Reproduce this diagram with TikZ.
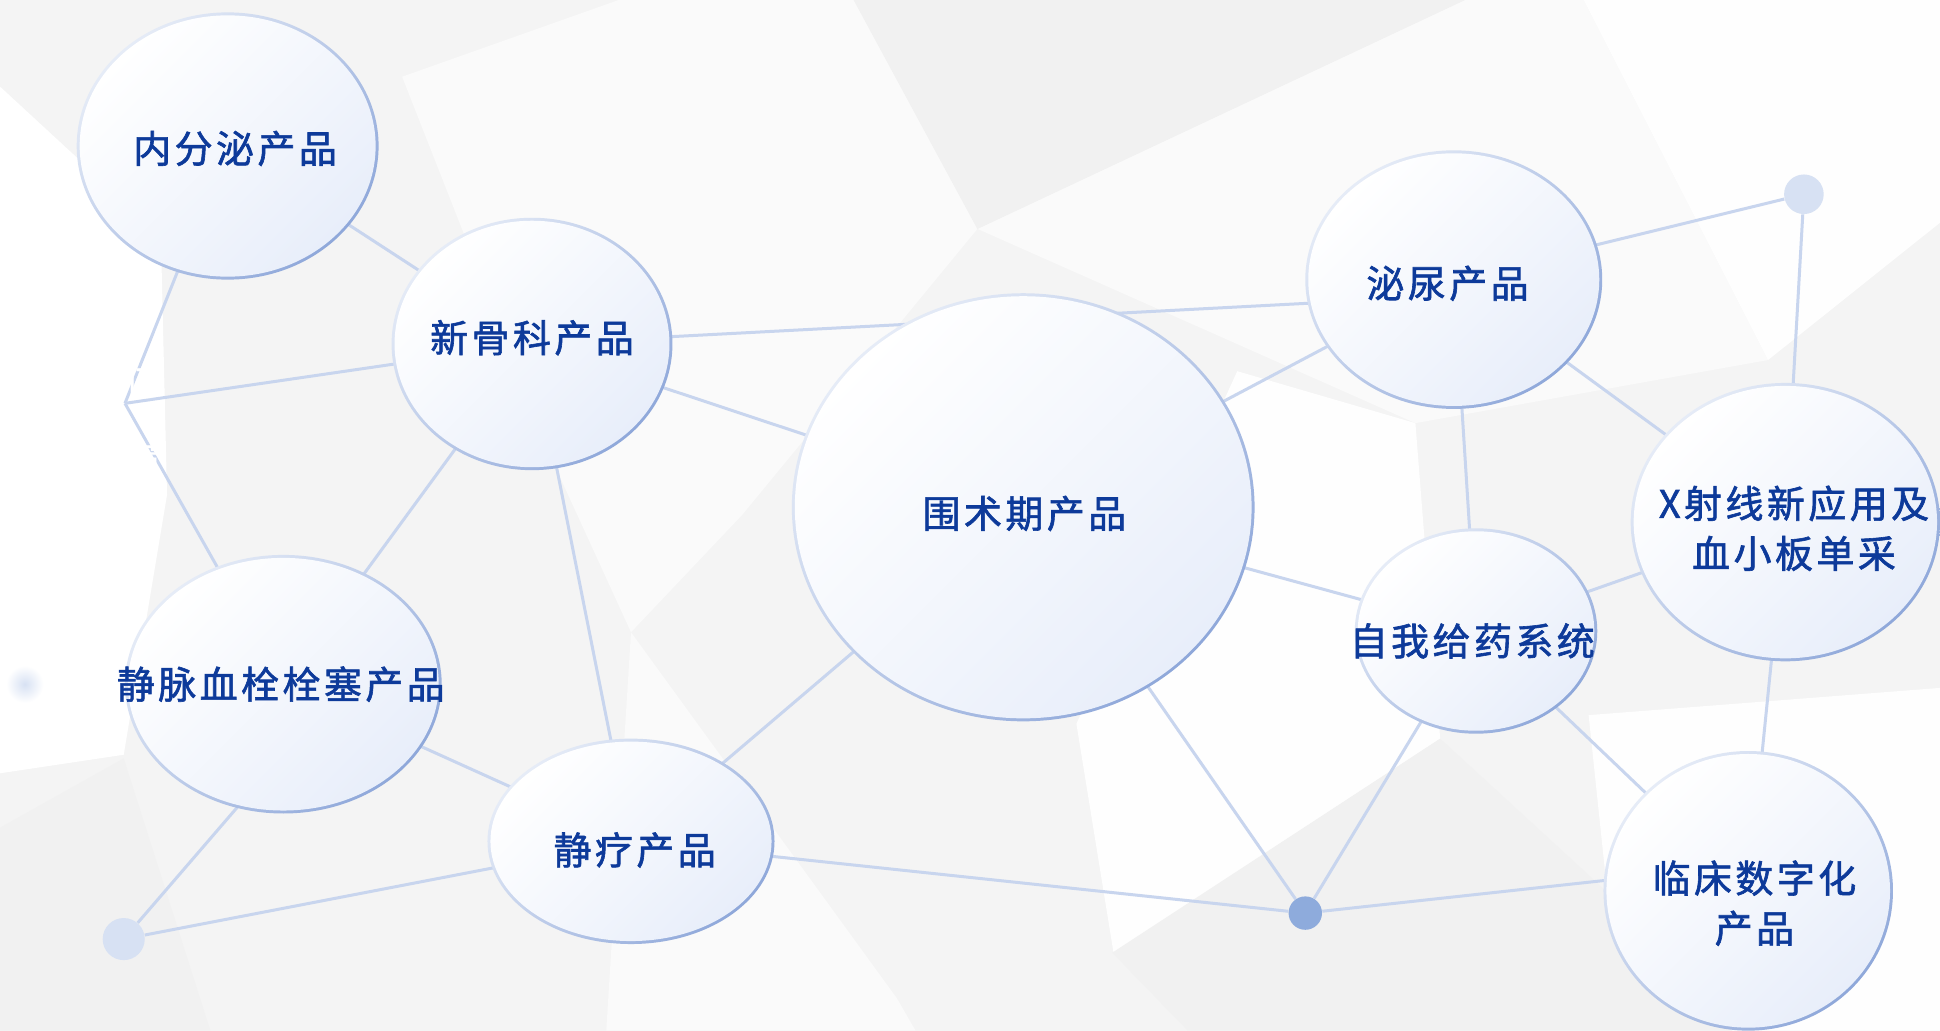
\documentclass[tikz,border=0pt]{standalone}
\usepackage{fontspec}
\newfontfamily\cjk[LetterSpace=9, FakeBold=1.6]{Noto Sans CJK SC}
\newfontfamily\cjkw{Noto Sans CJK SC}
\usetikzlibrary{shapes.geometric}
\definecolor{bg}{HTML}{F4F4F4}
\definecolor{bgw}{HTML}{FAFAFA}
\definecolor{bgww}{HTML}{FEFEFE}
\definecolor{bgg}{HTML}{F1F1F1}
\definecolor{txt}{HTML}{0D3A9A}
\definecolor{edgec}{HTML}{C8D5EE}
\definecolor{bubB}{HTML}{E8EEFA}
\definecolor{ringA}{HTML}{E6ECF7}
\definecolor{ringB}{HTML}{8FA8DA}
\definecolor{dotL}{HTML}{D7E1F3}
\definecolor{dotD}{HTML}{8EABDC}
\pgfdeclarelayer{bglayer}
\pgfdeclarelayer{edgelayer}
\pgfsetlayers{bglayer,edgelayer,main}
\def\uu{0.61862pt}
\tikzset{
  bub/.style={ellipse, inner sep=0pt, outer sep=0pt, shading=axis,
    top color=white, bottom color=bubB, shading angle=45},
  ringsh/.style={shading=axis, top color=ringA, bottom color=ringB, shading angle=45},
  lab/.style={font=\cjk\fontsize{19pt}{25pt}\selectfont, text=txt, align=center, inner sep=0pt},
  edge/.style={draw=edgec, line width=1.5pt},
  dotlight/.style={circle, fill=dotL, inner sep=0pt},
  dotdark/.style={circle, fill=dotD, inner sep=0pt},
}
\newcommand\bubble[5]{%
  \shade[ringsh] (#2,#3) ellipse [x radius=#4, y radius=#5];
  \node[bub, minimum width={2*(#4-2.4)*\uu}, minimum height={2*(#5-2.4)*\uu}] (#1) at (#2,#3) {};
}
\begin{document}
\begin{tikzpicture}[x=0.61862pt,y=-0.61862pt]
\useasboundingbox (0,0) rectangle (1568,833);
\begin{pgfonlayer}{bglayer}
  \fill[bg] (0,0) rectangle (1568,833);
  \fill[white] (0,70) -- (130,190) -- (135,400) -- (100,610) -- (0,625) -- cycle;
  \fill[bgw] (325,62) -- (500,0) -- (690,0) -- (790,185) -- (600,416) -- (510,511) -- (450,380) -- cycle;
  \fill[bgw] (790,185) -- (1184,0) -- (1280,0) -- (1429,291) -- (1144,342) -- cycle;
  \fill[bgww] (1280,0) -- (1568,0) -- (1568,180) -- (1429,291) -- cycle;
  \fill[bgww] (1000,300) -- (1144,342) -- (1164,597) -- (900,770) -- (870,585) -- cycle;
  \fill[bgw] (510,511) -- (725,807) -- (740,833) -- (490,833) -- cycle;
  \fill[bgww] (1284,578) -- (1568,556) -- (1568,833) -- (1400,833) -- (1299,721) -- cycle;
  \fill[bgg] (690,0) -- (1184,0) -- (790,185) -- cycle;
  \fill[bgg] (0,669) -- (100,613) -- (170,833) -- (0,833) -- cycle;
  \fill[bgg] (1164,597) -- (899,770) -- (960,833) -- (1400,833) -- (1299,721) -- cycle;
\end{pgfonlayer}

% bubbles
\bubble{n1}{184}{118}{122}{108}
\bubble{n2}{430}{278}{113.5}{102}
\bubble{n3}{827}{410}{187}{173}
\bubble{n4}{1175}{226}{120}{104.5}
\bubble{n5}{1443}{422}{125}{112.5}
\bubble{n6}{1193}{510}{98}{83}
\bubble{n7}{229}{553}{128}{104.5}
\bubble{n8}{510}{680}{116}{83}
\bubble{n9}{1413}{720}{117}{113}

% dots
\node[dotlight, minimum size={32*\uu}] (d1) at (1458,157) {};
\node[dotdark, minimum size={27*\uu}] (d2) at (1055,738) {};
\node[dotlight, minimum size={34*\uu}] (d3) at (100,759) {};
\node[circle, inner sep=0pt, minimum size={30*\uu}, inner color=dotL, outer color=white] (d4) at (20,553) {};
\coordinate (j) at (101,326);

% labels
\node[lab] (t1) at (190,120) {内分泌产品};
\node[lab] (t2) at (430,273) {新骨科产品};
\node[lab] (t3) at (828,415) {围术期产品};
\node[lab] (t4) at (1170,229) {泌尿产品};
\node[lab] (t5) at (1450,427) {X射线新应用及\\血小板单采};
\node[lab] (t6) at (1190,518) {自我给药系统};
\node[lab] (t7) at (227,553) {静脉血栓栓塞产品};
\node[lab] (t8) at (513,687) {静疗产品};
\node[lab] (t9) at (1418,730) {临床数字化\\产品};
\node[font=\cjkw\fontsize{21pt}{41pt}\selectfont, text=white, align=center, inner sep=0pt] (tw) at (101,340) {总体\\运营};

% edges
\begin{pgfonlayer}{edgelayer}
  \draw[edge] (n1.center) -- (n2.center);
  \draw[edge] (n1.center) -- (j);
  \draw[edge] (j) -- (n2.center);
  \draw[edge] (j) -- (n7.center);
  \draw[edge] (n2.center) -- (n7.center);
  \draw[edge] (n2.center) -- (n8.center);
  \draw[edge] (n2.center) -- ([yshift=-8pt]n4.center);
  \draw[edge] (n2.center) -- (n3.center);
  \draw[edge] (n3.center) -- (n4.center);
  \draw[edge] (n3.center) -- (n6.center);
  \draw[edge] (n3.center) -- (d2);
  \draw[edge] (n3.center) -- (n8.center);
  \draw[edge] (n7.center) -- (n8.center);
  \draw[edge] ([xshift=30pt]n7.center) -- (d3);
  \draw[edge] (d3) -- (n8.center);
  \draw[edge] (n8.center) -- (d2);
  \draw[edge] (d2) -- (n6.center);
  \draw[edge] (d2) -- ([yshift=13pt]n9.center);
  \draw[edge] (n6.center) -- (n9.center);
  \draw[edge] (n4.center) -- (n6.center);
  \draw[edge] (n4.center) -- (n5.center);
  \draw[edge] (n4.center) -- (d1);
  \draw[edge] (d1) -- (n5.center);
  \draw[edge] (n5.center) -- (n9.center);
  \draw[edge] (n6.center) -- (n5.center);
\end{pgfonlayer}
\end{tikzpicture}
\end{document}
